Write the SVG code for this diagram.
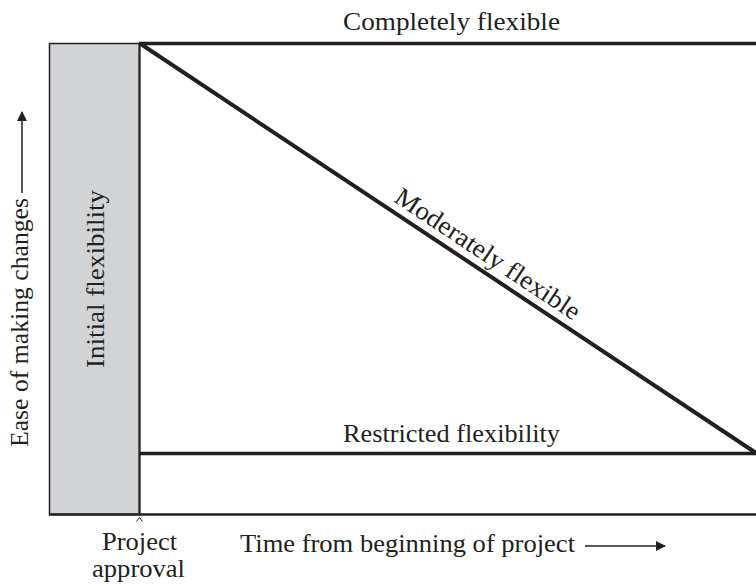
<svg xmlns="http://www.w3.org/2000/svg" width="756" height="588" viewBox="0 0 756 588">
<defs>
<style>
.t{font-family:"Liberation Serif","DejaVu Serif",serif;font-size:26px;fill:#231f20}
.ln{stroke:#231f20;fill:none}
</style>
<marker id="ah" markerWidth="10" markerHeight="10" refX="9" refY="5" orient="auto" markerUnits="userSpaceOnUse" viewBox="0 0 10 10">
<path d="M0,0 L10,5 L0,10 z" fill="#231f20"/>
</marker>
</defs>
<rect width="756" height="588" fill="#fff"/>
<g id="initial-flexibility">
<rect x="49.5" y="43.5" width="90" height="471" fill="#d1d3d4" stroke="#231f20" stroke-width="1.5"/>
<text class="t" transform="translate(104,279) rotate(-90)" text-anchor="middle" textLength="178" lengthAdjust="spacingAndGlyphs">Initial flexibility</text>
</g>
<g id="connectors">
<line class="ln" x1="139.5" y1="43.5" x2="139.5" y2="514.5" stroke-width="2"/>
<line class="ln" x1="49" y1="514.5" x2="756" y2="514.5" stroke-width="2.5"/>
<line class="ln" x1="139" y1="43.5" x2="756" y2="43.5" stroke-width="3.5"/>
<line class="ln" x1="140" y1="43.5" x2="756" y2="453" stroke-width="4"/>
<line class="ln" x1="139" y1="453.5" x2="756" y2="453.5" stroke-width="3.5"/>
<line class="ln" x1="22" y1="193" x2="22" y2="112" stroke-width="1.5" marker-end="url(#ah)"/>
<line class="ln" x1="585" y1="546" x2="665" y2="546" stroke-width="1.5" marker-end="url(#ah)"/>
<path class="ln" d="M136.5,521.5 L139.5,517.5 L142.5,521.5" stroke-width="1"/>
</g>
<g id="completely-flexible">
<text class="t" x="451.5" y="29.5" text-anchor="middle" textLength="217" lengthAdjust="spacingAndGlyphs">Completely flexible</text>
</g>
<g id="moderately-flexible">
<text class="t" transform="translate(483,261) rotate(33.6)" text-anchor="middle" textLength="217" lengthAdjust="spacingAndGlyphs">Moderately flexible</text>
</g>
<g id="restricted-flexibility">
<text class="t" x="451.5" y="442" text-anchor="middle" textLength="217" lengthAdjust="spacingAndGlyphs">Restricted flexibility</text>
</g>
<g id="y-axis-label">
<text class="t" transform="translate(28,322.5) rotate(-90)" text-anchor="middle" textLength="249" lengthAdjust="spacingAndGlyphs">Ease of making changes</text>
</g>
<g id="x-axis-label">
<text class="t" x="240" y="552" textLength="335" lengthAdjust="spacingAndGlyphs">Time from beginning of project</text>
</g>
<g id="project-approval">
<text class="t" x="139.5" y="550" text-anchor="middle" textLength="75" lengthAdjust="spacingAndGlyphs">Project</text>
<text class="t" x="138.5" y="577" text-anchor="middle" textLength="93" lengthAdjust="spacingAndGlyphs">approval</text>
</g>
</svg>
